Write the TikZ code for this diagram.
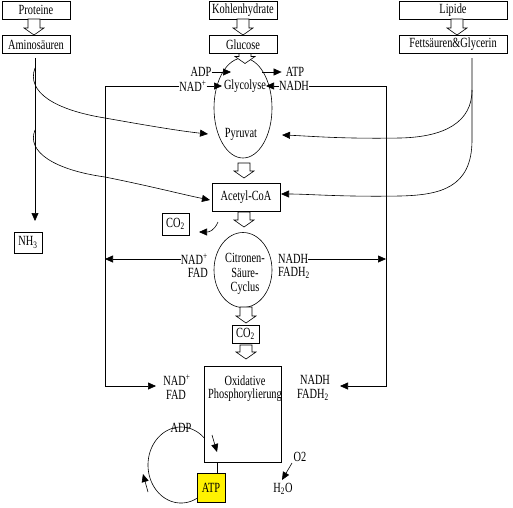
\documentclass[tikz,border=0pt]{standalone}
\usepackage{fontspec}
\setmainfont[FakeStretch=0.74]{Liberation Serif}
\usetikzlibrary{arrows.meta,shapes.geometric}
\tikzset{
  box/.style={draw, line width=0.6pt, inner sep=0pt, minimum height=18pt},
  lbl/.style={inner sep=0pt},
  conn/.style={line width=0.6pt, -{Triangle[length=8pt,width=7pt]}},
  plain/.style={line width=0.6pt},
  oval/.style={draw, ellipse, line width=0.6pt, inner sep=0pt},
  pics/harrow/.style={code={\draw[line width=0.6pt,fill=white] (-6,0) -- (6,0) -- (6,#1-7) -- (10,#1-7) -- (0,#1) -- (-10,#1-7) -- (-6,#1-7) -- cycle;}},
}
\begin{document}
\begin{tikzpicture}[x=1pt,y=-1pt,font=\fontsize{14}{15}\selectfont]
\fill[white] (0,0) rectangle (513,507);
\useasboundingbox (0,0) rectangle (513,507);

% top boxes
\node[box, minimum width=68pt] (prot) at (36,10) {Proteine};
\node[box, minimum width=68pt] (amino) at (36,44.5) {Aminosäuren};
\node[box, minimum width=68pt] (kh) at (243,10) {Kohlenhydrate};
\node[box, minimum width=68pt] (glc) at (243,44.5) {Glucose};
\node[box, minimum width=108pt] (lip) at (453,10) {Lipide};
\node[box, minimum width=108pt] (fett) at (453,44.5) {Fettsäuren\&Glycerin};

\pic at (34,19) {harrow=16};
\pic at (243,19) {harrow=16};
\pic at (457,19) {harrow=16};

% glycolysis
\node[oval, minimum width=58pt, minimum height=100pt] (glyc) at (243,108) {};
\pic at (245,53.5) {harrow=10};
\node[lbl] (adp) at (201,72) {ADP};
\node[lbl] (atp) at (295,72) {ATP};
\node[lbl] (nadA) at (193,86) {NAD\textsuperscript{+}};
\node[lbl] (glyt) at (245,86) {Glycolyse};
\node[lbl] (nadhA) at (294,86) {NADH};
\node[lbl] (pyr) at (241,134) {Pyruvat};
\coordinate (adpT) at (231,72);
\coordinate (atpS) at (262,72);
\coordinate (nadAT) at (222,86);
\coordinate (nadhAT) at (266,86);
\draw[conn] (adp.east) -- (adpT);
\draw[conn] (atpS) -- ([xshift=-4pt]atp.west);
\draw[conn] (nadA.east) -- (nadAT);
\draw[conn] (nadhA.west) -- (nadhAT);

% acetyl-CoA
\pic at (244,163) {harrow=15};
\node[box, minimum width=68pt, minimum height=28pt] (acetyl) at (246,197) {Acetyl-CoA};
\pic at (244,212) {harrow=15};
\node[box, minimum width=27pt, minimum height=22pt] (co2a) at (175.5,224) {CO\textsubscript{2}};
\coordinate (cs) at (218,222);
\coordinate (ct) at (199,232);
\draw[conn] (cs) .. controls (214,231) and (209,232) .. (ct);

% amino acids branch
\node[box, minimum width=28pt, minimum height=21pt] (nh3) at (28,242.5) {NH\textsubscript{3}};
\coordinate (aS) at (35,58);
\coordinate (aT) at (35,221);
\draw[conn] (aS) -- (aT);
\coordinate (aC1) at (35,68);
\coordinate (aC2) at (35,130);
\coordinate (pyrL) at (208,134);
\coordinate (acL) at (210,200);
\draw[conn] (aC1) .. controls (26,92) and (55,110) .. (105,118) .. controls (150,126) and (180,131) .. (pyrL);
\draw[conn] (aC2) .. controls (26,152) and (55,170) .. (105,177) .. controls (150,186) and (185,195) .. (acL);

% lipid branch
\coordinate (fS) at (472,58);
\coordinate (fB) at (472,90);
\coordinate (fM) at (472,140);
\coordinate (pyrR) at (282,135);
\coordinate (acR) at (281,194);
\draw[conn] (fS) -- (fM) .. controls (472,188) and (440,195) .. (400,196) .. controls (340,197) and (310,194) .. (acR);
\draw[conn] (fB) .. controls (472,122) and (445,137) .. (400,138) .. controls (340,139) and (310,136) .. (pyrR);

% citric acid cycle
\node[oval, minimum width=58pt, minimum height=75pt] (cit) at (243,270) {};
\node[lbl] (cit1) at (245,258) {Citronen-};
\node[lbl] (cit2) at (245,273) {Säure-};
\node[lbl] (cit3) at (245,288) {Cyclus};
\node[lbl, anchor=east] (nadB) at (208,259) {NAD\textsuperscript{+}};
\node[lbl, anchor=east] (fadB) at (208,273) {FAD};
\node[lbl, anchor=west] (nadhB) at (278,259) {NADH};
\node[lbl, anchor=west] (fadhB) at (278,273) {FADH\textsubscript{2}};
\pic at (246,307) {harrow=16};
\node[box, minimum width=27pt, minimum height=18pt] (co2b) at (245.5,334) {CO\textsubscript{2}};
\pic at (246,345) {harrow=14};

% loop lines
\coordinate (xl) at (105,0);
\coordinate (xr) at (386,0);
\coordinate (nadCT) at (156,386);
\coordinate (nadhCT) at (340,386);
\draw[conn] (nadA.west) -- (nadA.west -| xl) -- (nadCT -| xl) -- (nadCT);
\draw[conn] (nadhA.east) -- (nadhA.east -| xr) -- (nadhCT -| xr) -- (nadhCT);
\draw[conn] (nadB.west) -- (nadB.west -| xl);
\draw[conn] (nadhB.east) -- (nadhB.east -| xr);

% oxidative phosphorylation
\node[box, minimum width=77pt, minimum height=96pt] (ox) at (242.5,414) {};
\node[lbl] (ox1) at (245,381) {Oxidative};
\node[lbl] (ox2) at (245,395) {Phosphorylierung};
\node[lbl] (nadC) at (177,380) {NAD\textsuperscript{+}};
\node[lbl] (fadC) at (176,395) {FAD};
\node[lbl] (nadhC) at (315,380) {NADH};
\node[lbl] (fadhC) at (313,395) {FADH\textsubscript{2}};

\node[box, fill=yellow, minimum width=28pt, minimum height=29pt] (atpb) at (211,487.5) {ATP};
\coordinate (oxb) at (217,462);
\draw[plain] (oxb) -- (oxb |- atpb.north);
\coordinate (ina) at (212,435);
\coordinate (inb) at (217,452);
\draw[conn] (ina) -- (inb);

\draw[plain] plot[domain=45:299,samples=80] ({181+33*cos(\x)},{465-38*sin(\x)});
\node[lbl] (adpC) at (181,428) {ADP};
\coordinate (cyA) at (148,492);
\coordinate (cyB) at (143,474);
\draw[conn] (cyA) -- (cyB);

\node[lbl] (o2) at (300,457) {O2};
\node[lbl] (h2o) at (283,489) {H\textsubscript{2}O};
\coordinate (o2s) at (292,463);
\coordinate (o2t) at (282,480);
\draw[conn] (o2s) -- (o2t);
\end{tikzpicture}
\end{document}
